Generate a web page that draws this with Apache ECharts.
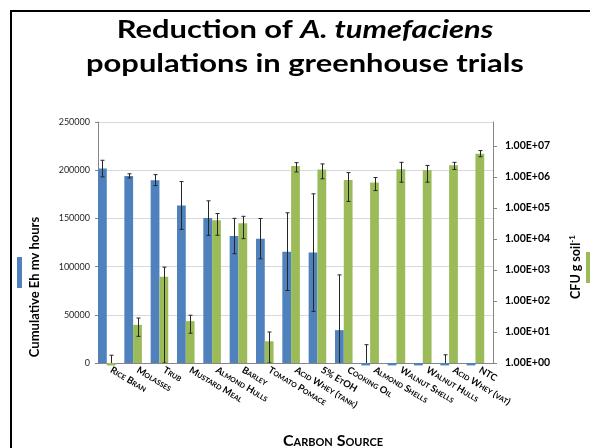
<!DOCTYPE html>
<html>
<head>
<meta charset="utf-8">
<script src="https://cdn.jsdelivr.net/npm/echarts@6/dist/echarts.min.js"></script>
<style>
html,body{margin:0;padding:0;background:#fff;}
#chart{width:590px;height:448px;}
</style>
</head>
<body>
<div id="chart"></div>
<script>
// ---- data ----
const categories = ['Rice Bran','Molasses','Trub','Mustard Meal','Almond Hulls','Barley','Tomato Pomace','Acid Whey (tank)','5% EtOH','Cooking Oil','Almond Shells','Walnut Shells','Walnut Hulls','Acid Whey (vat)','NTC'];
// Cumulative Eh mv hours (left axis)
const ehValues = [201700, 194100, 189700, 163400, 150300, 131700, 129000, 115500, 114500, 34100, -2500, -2500, -2500, -2500, -2500];
const ehError  = [8600, 2200, 5700, 24800, 17900, 18300, 20900, 40300, 61000, 57300, 21500, 0, 0, 11000, 0];
// CFU g soil-1, as log10 (right axis)
const cfuLog10 = [-0.08, 1.23, 2.78, 1.35, 4.60, 4.51, 0.70, 6.35, 6.24, 5.90, 5.82, 6.25, 6.22, 6.38, 6.75];
const cfuLow   = [-0.30, 0.86, 0.00, 0.96, 4.12, 4.01, 0.00, 6.16, 5.94, 5.21, 5.56, 5.83, 5.83, 6.24, 6.65];
const cfuHigh  = [0.25, 1.45, 3.09, 1.54, 4.82, 4.73, 1.00, 6.46, 6.42, 6.14, 5.98, 6.47, 6.37, 6.47, 6.85];
const cfuTickExponents = [0, 1, 2, 3, 4, 5, 6, 7];
const cfuTickLabels = ['1.00E+00','1.00E+01','1.00E+02','1.00E+03','1.00E+04','1.00E+05','1.00E+06','1.00E+07'];

const FONT = 'Lato, "Open Sans", sans-serif';
const BLUE = '#4F81BD', GREEN = '#9BBB59';

function errRenderer(offsetFrac){
  return function(params, api){
    const i = api.value(0);
    const lo = api.coord([i, api.value(1)]);
    const hi = api.coord([i, api.value(2)]);
    if (Math.abs(lo[1]-hi[1]) < 0.5) return null;
    const band = api.size([1, 0])[0];
    const x = Math.round(lo[0] + offsetFrac * band) + 0.5;
    const cap = 2;
    const st = {stroke:'#262626', lineWidth:1};
    return {type:'group', children:[
      {type:'line', shape:{x1:x, y1:lo[1], x2:x, y2:hi[1]}, style:st},
      {type:'line', shape:{x1:x-cap, y1:hi[1], x2:x+cap, y2:hi[1]}, style:st},
      {type:'line', shape:{x1:x-cap, y1:lo[1], x2:x+cap, y2:lo[1]}, style:st}
    ]};
  };
}

const chart = echarts.init(document.getElementById('chart'), null, {renderer:'canvas'});
chart.setOption({
  animation:false,
  backgroundColor:'#fff',
  grid:{left:98, right:97, top:122, bottom:85, containLabel:false},
  legend:[
    {data:['Cumulative Eh mv hours'], left:17, top:257, padding:0, itemWidth:5, itemHeight:31, icon:'rect', formatter:function(){return '';}, selectedMode:false},
    {data:['CFU g soil-1'], left:586, top:252, padding:0, itemWidth:5, itemHeight:31, icon:'rect', formatter:function(){return '';}, selectedMode:false}
  ],
  xAxis:{
    type:'category', data:categories,
    axisLine:{lineStyle:{color:'#868686'}},
    axisTick:{interval:0, length:4, lineStyle:{color:'#868686'}},
    axisLabel:{interval:0, rotate:-31, margin:6, fontFamily:FONT, fontSize:9.5, fontWeight:'bold', fontStyle:'small-caps', color:'#000'}
  },
  yAxis:[
    {type:'value', min:0, max:250000, interval:50000, position:'left',
     axisLine:{show:true, lineStyle:{color:'#868686'}},
     axisTick:{show:true, length:3, lineStyle:{color:'#868686'}},
     splitLine:{lineStyle:{color:'#D9D9D9'}},
     axisLabel:{margin:8, fontFamily:FONT, fontSize:9, color:'#262626', formatter:function(v){return String(v);}}
    },
    {type:'value', min:0, max:7.771, position:'right',
     axisLine:{show:true, lineStyle:{color:'#868686'}},
     axisTick:{show:true, length:4, customValues:cfuTickExponents, lineStyle:{color:'#868686'}},
     splitLine:{show:false},
     axisLabel:{margin:12, customValues:cfuTickExponents, fontFamily:FONT, fontSize:10.5, fontWeight:'bold', color:'#000',
       formatter:function(v){const k = cfuTickExponents.indexOf(Math.round(v)); return k>=0 ? cfuTickLabels[k] : '';}}
    }
  ],
  series:[
    {name:'Cumulative Eh mv hours', type:'bar', yAxisIndex:0, data:ehValues, barGap:'0%', barCategoryGap:'0%', clip:false, z:3,
     itemStyle:{color:BLUE}},
    {name:'CFU g soil-1', type:'bar', yAxisIndex:1, data:cfuLog10, clip:false, z:3,
     itemStyle:{color:GREEN}},
    {name:'spacer', type:'bar', yAxisIndex:0, data:categories.map(function(){return 0;}), itemStyle:{color:'rgba(0,0,0,0)'}},
    {type:'custom', yAxisIndex:0, clip:true, z:5,
     data:ehValues.map(function(v,i){return [i, v-ehError[i], v+ehError[i]];}),
     encode:{x:0, y:[1,2]}, renderItem:errRenderer(-1/3)},
    {type:'custom', yAxisIndex:1, clip:true, z:5,
     data:cfuLog10.map(function(v,i){return [i, cfuLow[i], cfuHigh[i]];}),
     encode:{x:0, y:[1,2]}, renderItem:errRenderer(0)}
  ],
  graphic:[
    {type:'rect', shape:{x:11, y:11, width:700, height:600}, style:{fill:'none', stroke:'#000', lineWidth:2}, silent:true, z:100},
    {type:'text', x:305, y:13, scaleX:1.235, z:100, style:{
      text:'{b|Reduction of }{i|A. tumefaciens}\n{b|populations in greenhouse trials}',
      align:'center', textAlign:'center', verticalAlign:'top', textVerticalAlign:'top',
      rich:{
        b:{fontFamily:FONT, fontWeight:'bold', fontSize:25, lineHeight:34, fill:'#000'},
        i:{fontFamily:FONT, fontWeight:'bold', fontStyle:'italic', fontSize:25, lineHeight:34, fill:'#000'}
      }}},
    {type:'text', x:35, y:287, rotation:Math.PI/2, z:100, style:{
      text:'Cumulative Eh mv hours', fontFamily:FONT, fontWeight:'bold', fontSize:13, fill:'#000',
      align:'center', textAlign:'center', verticalAlign:'middle', textVerticalAlign:'middle'}},
    {type:'text', x:575, y:267, rotation:Math.PI/2, z:100, style:{
      text:'{b|CFU g soil}{s|-1}',
      align:'center', textAlign:'center', verticalAlign:'middle', textVerticalAlign:'middle',
      rich:{
        b:{fontFamily:FONT, fontWeight:'bold', fontSize:12.5, fill:'#000', verticalAlign:'bottom'},
        s:{fontFamily:FONT, fontWeight:'bold', fontSize:8, fill:'#000', verticalAlign:'top', padding:[0,0,6,0]}
      }}},
    {type:'text', x:333, y:441, z:100, style:{
      text:'Carbon Source', fontFamily:FONT, fontWeight:'bold', fontStyle:'small-caps', fontSize:16, fill:'#000',
      align:'center', textAlign:'center', verticalAlign:'middle', textVerticalAlign:'middle'}}
  ]
});
</script>
</body>
</html>
